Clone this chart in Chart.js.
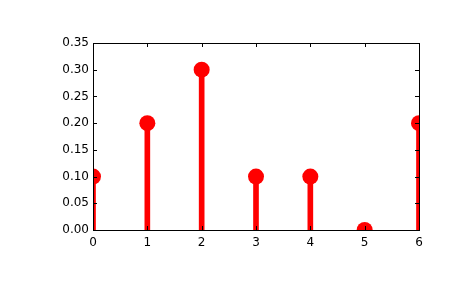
<!DOCTYPE html>
<html>
<head>
<meta charset="utf-8">
<script src="https://cdn.jsdelivr.net/npm/chart.js@4/dist/chart.umd.min.js"></script>
<style>
  html, body { margin: 0; padding: 0; background: #fff; }
  canvas { display: block; }
</style>
</head>
<body>
<canvas id="chart" width="465" height="288"></canvas>
<script>
// stem plot data
const xs = [0, 1, 2, 3, 4, 5, 6];
const ys = [0.1, 0.2, 0.3, 0.1, 0.1, 0.0, 0.2];
const yTicks = [0, 0.05, 0.1, 0.15, 0.2, 0.25, 0.3, 0.35];
const xTicks = [0, 1, 2, 3, 4, 5, 6];

const points = xs.map((x, i) => ({ x: x, y: ys[i] }));

// frame + inward ticks, matplotlib style
const frame = {
  id: 'frame',
  afterDraw(chart) {
    const { ctx, chartArea: a, scales } = chart;
    ctx.save();
    ctx.strokeStyle = '#000';
    ctx.lineWidth = 1;
    ctx.beginPath();
    const len = 4;
    xTicks.forEach(v => {
      const px = Math.round(scales.x.getPixelForValue(v)) + 0.5;
      ctx.moveTo(px, a.bottom); ctx.lineTo(px, a.bottom - len);
      ctx.moveTo(px, a.top); ctx.lineTo(px, a.top + len);
    });
    yTicks.forEach(v => {
      const py = Math.round(scales.y.getPixelForValue(v)) + 0.5;
      ctx.moveTo(a.left, py); ctx.lineTo(a.left + len, py);
      ctx.moveTo(a.right, py); ctx.lineTo(a.right - len, py);
    });
    ctx.stroke();
    ctx.strokeRect(Math.round(a.left) + 0.5, Math.round(a.top) + 0.5,
      Math.round(a.right - a.left), Math.round(a.bottom - a.top));
    ctx.restore();
  }
};

new Chart(document.getElementById('chart').getContext('2d'), {
  data: {
    datasets: [
      {
        type: 'scatter',
        data: points,
        showLine: false,
        pointRadius: 8,
        pointHoverRadius: 8,
        pointBackgroundColor: '#ff0000',
        pointBorderColor: '#ff0000',
        pointBorderWidth: 0,
        clip: 0,
        order: 0
      },
      {
        type: 'bar',
        data: points,
        backgroundColor: '#ff0000',
        barThickness: 5,
        borderWidth: 0,
        clip: 0,
        order: 1
      }
    ]
  },
  options: {
    responsive: false,
    animation: false,
    layout: { padding: { left: 0, top: 43, right: 46, bottom: 0 } },
    plugins: { legend: { display: false }, tooltip: { enabled: false } },
    scales: {
      x: {
        type: 'linear',
        min: 0, max: 6,
        offset: false,
        grid: { display: false, drawTicks: false },
        border: { display: false },
        afterBuildTicks: s => { s.ticks = xTicks.map(v => ({ value: v })); },
        afterFit: s => { s.height = 58; },
        ticks: {
          padding: 6,
          color: '#000',
          font: { family: 'DejaVu Sans', size: 12 },
          callback: v => String(v)
        }
      },
      y: {
        min: 0, max: 0.35,
        grid: { display: false, drawTicks: false },
        border: { display: false },
        afterBuildTicks: s => { s.ticks = yTicks.map(v => ({ value: v })); },
        afterFit: s => { s.width = 93; },
        ticks: {
          padding: 4,
          color: '#000',
          font: { family: 'DejaVu Sans', size: 12 },
          callback: v => v.toFixed(2)
        }
      }
    }
  },
  plugins: [frame]
});
</script>
</body>
</html>
